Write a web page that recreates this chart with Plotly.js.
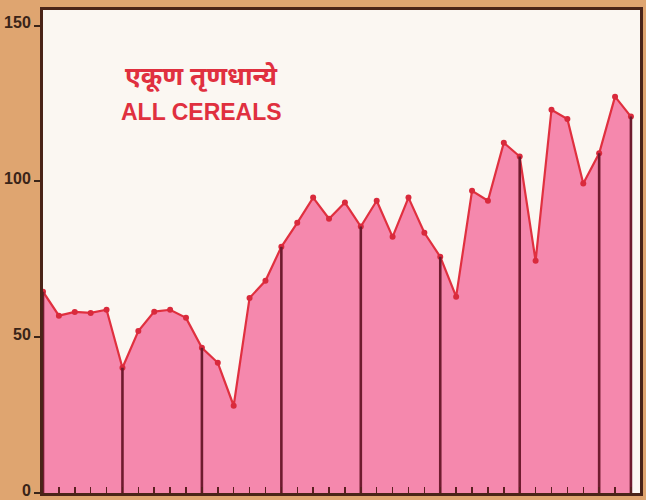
<!DOCTYPE html>
<html>
<head>
<meta charset="utf-8">
<script src="https://cdn.plot.ly/plotly-3.0.1.min.js"></script>
<style>html,body{margin:0;padding:0;background:#dfa570;}#chart{width:646px;height:500px;}</style>
</head>
<body>
<div id="chart"></div>
<script>
// Years (x categories)
var years = [1951,1952,1953,1954,1955,1956,1957,1958,1959,1960,
             1961,1962,1963,1964,1965,1966,1967,1968,1969,1970,
             1971,1972,1973,1974,1975,1976,1977,1978,1979,1980,
             1981,1982,1983,1984,1985,1986,1987,1988];
// Index values, all cereals
var cereals = [64.6,56.9,58.1,57.8,58.8,40.2,52.0,58.2,58.8,56.2,
               46.6,41.8,28.0,62.6,68.1,79.0,86.7,94.8,88.0,93.2,
               85.5,93.8,82.2,94.8,83.5,75.8,63.0,97.0,93.8,112.4,
               108.0,74.5,123.0,120.0,99.3,109.0,127.2,120.8];
// Years marked with vertical dividers
var dividerYears = [1951,1956,1961,1966,1971,1976,1981,1986,1988];
var yTicks = [0,50,100,150];
var yTickText = ['0','50','100','150'];
var titleHindi = 'एकूण तृणधान्ये';
var titleEnglish = 'ALL CEREALS';

var dx = [], dy = [];
dividerYears.forEach(function(yr){
  var v = cereals[years.indexOf(yr)];
  dx.push(yr, yr, null);
  dy.push(0, v, null);
});

var traces = [
  {
    x: years, y: cereals, type: 'scatter', mode: 'lines+markers',
    fill: 'tozeroy', fillcolor: '#f588ad',
    line: {color: '#e0303f', width: 2.2},
    marker: {color: '#d92a3c', size: 6},
    hoverinfo: 'x+y'
  },
  {
    x: dx, y: dy, type: 'scatter', mode: 'lines',
    line: {color: '#6e1b2e', width: 2.6},
    hoverinfo: 'skip'
  }
];

var layout = {
  width: 646, height: 500,
  margin: {l: 43, r: 6, t: 10, b: 7},
  paper_bgcolor: '#dfa570',
  plot_bgcolor: '#fbf7f2',
  showlegend: false,
  xaxis: {
    range: [1951, 1988.57],
    showgrid: false, zeroline: false,
    showline: true, linecolor: '#4a2418', linewidth: 3, mirror: true,
    ticks: 'inside', ticklen: 6, tickwidth: 1.5, tickcolor: '#5a2020',
    dtick: 1, tick0: 1951,
    showticklabels: false
  },
  yaxis: {
    range: [0, 155],
    showgrid: false, zeroline: false,
    showline: true, linecolor: '#4a2418', linewidth: 3, mirror: true,
    ticks: 'outside', ticklen: 6, tickwidth: 2, tickcolor: '#3a2418',
    tickvals: yTicks, ticktext: yTickText,
    ticklabeloverflow: 'allow',
    ticklabelstandoff: 0,
    ticklabelshift: -3,
    tickfont: {family: 'Liberation Sans, Arial, sans-serif', size: 16, color: '#3a2418', weight: 'bold'}
  },
  annotations: [
    {x: 1961, y: 134, xref: 'x', yref: 'y', text: '<b>' + titleHindi + '</b>', showarrow: false,
     font: {family: 'Noto Sans, FreeSans, sans-serif', size: 26, color: '#e0303f'}},
    {x: 1961, y: 122.3, xref: 'x', yref: 'y', text: '<b>' + titleEnglish + '</b>', showarrow: false,
     font: {family: 'Liberation Sans, Arial, sans-serif', size: 23, color: '#e0303f'}}
  ]
};

Plotly.newPlot('chart', traces, layout, {displayModeBar: false, staticPlot: true});
</script>
</body>
</html>
